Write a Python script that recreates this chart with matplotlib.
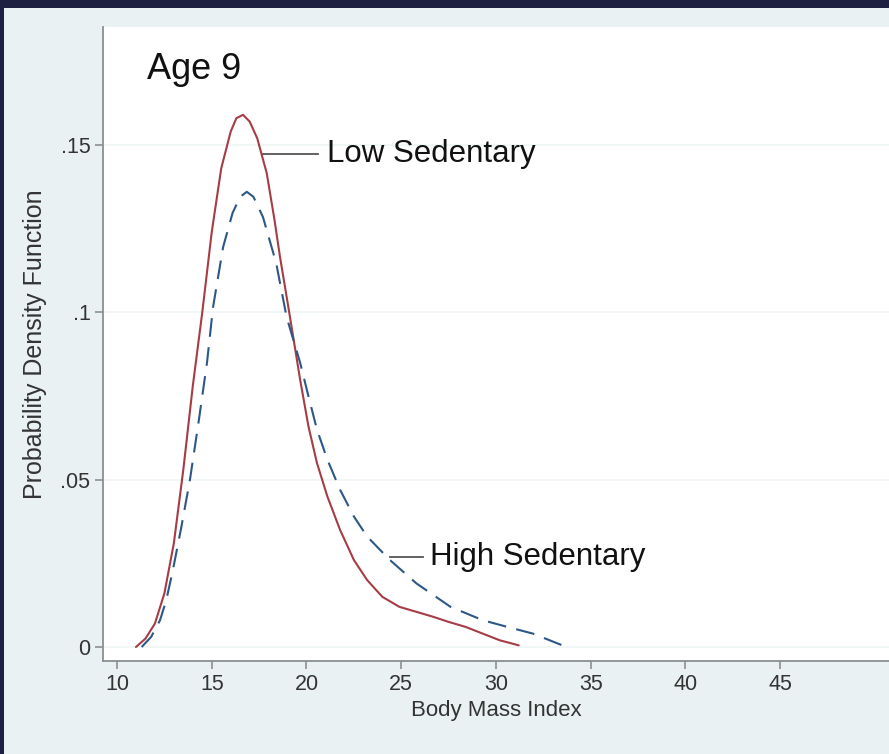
import matplotlib
matplotlib.use("Agg")
import matplotlib.pyplot as plt
from matplotlib.patches import Rectangle

# ---- data ----
low_bmi = [11.0, 11.5, 12.0, 12.5, 13.0, 13.5, 14.0, 14.5, 15.0, 15.5, 16.0, 16.3, 16.65, 17.0, 17.4,
           17.9, 18.3, 18.6, 19.0, 19.3, 19.66, 20.1, 20.55, 21.1, 21.77, 22.5, 23.2, 24.0, 24.9,
           25.8, 26.7, 27.5, 28.4, 29.3, 30.2, 31.2]
low_pdf = [0.0, 0.0025, 0.007, 0.016, 0.031, 0.053, 0.078, 0.100, 0.124, 0.143, 0.154, 0.158, 0.159,
           0.157, 0.152, 0.1416, 0.128, 0.1166, 0.103, 0.0926, 0.080, 0.066, 0.055, 0.045, 0.035,
           0.026, 0.020, 0.015, 0.012, 0.0105, 0.009, 0.0075, 0.006, 0.004, 0.002, 0.0005]
high_bmi = [11.3, 11.8, 12.27, 12.6, 12.95, 13.4, 13.85, 14.3, 14.75, 15.07, 15.6, 16.1, 16.5, 16.85,
            17.2, 17.7, 18.4, 18.95, 19.66, 20.1, 20.55, 21.1, 21.77, 22.5, 23.2, 24.4, 25.8, 26.7,
            27.6, 29.3, 30.6, 31.95, 33.5]
high_pdf = [0.0, 0.003, 0.008, 0.014, 0.023, 0.036, 0.050, 0.067, 0.085, 0.1016, 0.1195, 0.1297,
            0.1345, 0.136, 0.1345, 0.1285, 0.1147, 0.0986, 0.085, 0.075, 0.065, 0.056, 0.047, 0.039,
            0.033, 0.026, 0.019, 0.0155, 0.012, 0.008, 0.006, 0.004, 0.0005]
xticks = [10, 15, 20, 25, 30, 35, 40, 45]
yticks = [0, 0.05, 0.1, 0.15]
ytick_labels = ["0", ".05", ".1", ".15"]
title_text = "Age 9"
low_label = "Low Sedentary"
high_label = "High Sedentary"
xlabel = "Body Mass Index"
ylabel = "Probability Density Function"

W, H = 889, 754
fig = plt.figure(figsize=(W / 100, H / 100), dpi=100)
fig.patch.set_facecolor("#e9f1f3")
plt.rcParams['font.family'] = ['Liberation Sans', 'DejaVu Sans']

# dark frame (top and left)
fig.patches.append(Rectangle((0, 1 - 8 / H), 1, 8 / H, transform=fig.transFigure,
                             facecolor="#1d2040", edgecolor="none", zorder=10))
fig.patches.append(Rectangle((0, 0), 4 / W, 1, transform=fig.transFigure,
                             facecolor="#1d2040", edgecolor="none", zorder=10))

left_px, right_px, top_px, bot_px = 103, 889, 27, 661
ax = fig.add_axes([left_px / W, 1 - bot_px / H, (right_px - left_px) / W, (bot_px - top_px) / H])
ax.set_facecolor("white")

px_per_x = 18.95
x0_px = 117
ax.set_xlim(10 + (left_px - x0_px) / px_per_x, 10 + (right_px - x0_px) / px_per_x)
px_per_y = 3347
y0_px = 647
ax.set_ylim((y0_px - bot_px) / px_per_y, (y0_px - top_px) / px_per_y)

for y in yticks:
    ax.axhline(y, color="#edf4f4", lw=1.2, zorder=0)

ax.plot(low_bmi, low_pdf, color="#a63c45", lw=1.5, solid_capstyle="round",
        solid_joinstyle="round", zorder=3)
ax.plot(high_bmi, high_pdf, color="#2c5887", lw=1.5, dashes=(9, 5), zorder=3)

# leader lines and labels
ax.plot([17.7, 20.6], [0.1473, 0.1473], color="#555555", lw=1.3, zorder=2)
ax.text(21.1, 0.1473, low_label, fontsize=22.5, va="center", ha="left", color="#111111")
ax.plot([24.4, 26.15], [0.0269, 0.0269], color="#555555", lw=1.3, zorder=2)
ax.text(26.5, 0.0269, high_label, fontsize=22.5, va="center", ha="left", color="#111111")

ax.text(11.6, 0.1725, title_text, fontsize=26, va="center", ha="left", color="#111111")

for s in ["top", "right"]:
    ax.spines[s].set_visible(False)
for s in ["left", "bottom"]:
    ax.spines[s].set_color("#8a8f92")
    ax.spines[s].set_linewidth(1.3)

ax.set_xticks(xticks)
ax.set_xticklabels([str(t) for t in xticks])
ax.set_yticks(yticks)
ax.set_yticklabels(ytick_labels)
ax.tick_params(axis="both", direction="out", length=6, width=1.2, color="#8a8f92",
               labelsize=15.5, labelcolor="#333333", pad=3)

ax.set_xlabel(xlabel, fontsize=16, color="#333333", labelpad=4)
ax.set_ylabel(ylabel, fontsize=18, color="#333333", labelpad=10)

fig.savefig("out.png", dpi=100, facecolor=fig.get_facecolor())
